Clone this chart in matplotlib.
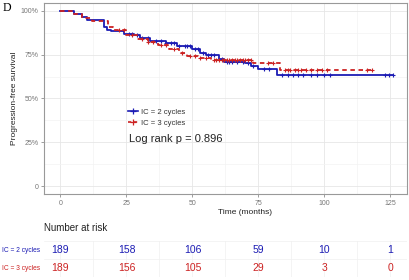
import numpy as np
import matplotlib
matplotlib.use("Agg")
import matplotlib.pyplot as plt
from matplotlib.lines import Line2D

plt.rcParams['font.family'] = ['Liberation Sans', 'DejaVu Sans']

# ---- data ----
groups = ["IC = 2 cycles", "IC = 3 cycles"]
colors = ["#1c1cb4", "#cc2222"]

blue_t = [0, 5, 8, 10, 16.5, 17.5, 19, 24, 28, 30, 34, 40, 44, 50, 53, 55, 60, 62, 70, 72, 75, 82, 126]
blue_s = [100, 98, 96.5, 95, 91, 89, 88.5, 87, 86, 84.5, 83, 81.5, 80, 78, 76, 75, 72.5, 71, 70, 68.5, 67, 63.6, 63.6]
blue_cens = [26, 27, 29, 31, 33, 36, 38, 40, 42, 43, 45, 47, 48, 49, 51, 52, 54, 56, 57, 58, 61, 63, 64,
             65, 67, 69, 71, 73, 77, 79, 84, 86, 88, 90, 92, 95, 97, 100, 102, 123, 124.5, 126]

red_t = [0, 5, 8, 12, 18, 20, 25, 29, 33, 37, 41, 45, 48, 52, 57, 73, 83, 118]
red_s = [100, 98.5, 96, 94.5, 91, 89, 86.5, 84, 82.5, 80.5, 78, 76, 74.5, 73, 72, 70.3, 66.3, 66.3]
red_cens = [22, 24, 27, 31, 33, 35, 38, 40, 43, 46, 49, 51, 53, 55, 58, 59, 60, 61, 62, 63, 64, 65, 66,
            67, 68, 69, 70, 71, 72, 78.5, 80.5, 85, 86, 87, 89, 90, 91, 93, 95, 97, 99, 101, 116, 118]

risk_times = [0, 25, 50, 75, 100, 125]
risk_blue = [189, 158, 106, 59, 10, 1]
risk_red = [189, 156, 105, 29, 3, 0]

x_ticks = [0, 25, 50, 75, 100, 125]
y_ticks = [0, 25, 50, 75, 100]
y_ticklabels = ["0", "25%", "50%", "75%", "100%"]

W, H = 410, 280
fig = plt.figure(figsize=(W / 100, H / 100), dpi=100)
fig.patch.set_facecolor("white")

def fx(px):
    return px / W

def fy(py):
    return 1 - py / H

# main axes
ax = fig.add_axes([fx(44), fy(194), fx(407) - fx(44), fy(3) - fy(194)])
ax.set_xlim(-6.25, 131.25)
ax.set_ylim(-4.5, 104.5)
ax.set_xticks(x_ticks)
ax.set_xticks([12.5, 37.5, 62.5, 87.5, 112.5], minor=True)
ax.set_yticks(y_ticks)
ax.set_yticks([12.5, 37.5, 62.5, 87.5], minor=True)
ax.set_yticklabels(y_ticklabels)
ax.grid(which="major", color="#e6e6e6", lw=0.6)
ax.grid(which="minor", color="#f3f3f3", lw=0.5)
ax.set_axisbelow(True)
ax.tick_params(which="major", labelsize=5, colors="#777777", length=2, width=0.5, pad=2)
ax.tick_params(which="minor", length=0)
for sp in ax.spines.values():
    sp.set_color("#999999")
    sp.set_linewidth(0.8)

def step_val(tarr, sarr, t):
    idx = np.searchsorted(tarr, t, side="right") - 1
    return np.asarray(sarr)[idx]

for tarr, sarr, cens, col, ls in [(blue_t, blue_s, blue_cens, colors[0], "-"),
                                  (red_t, red_s, red_cens, colors[1], (0, (2.5, 2)))]:
    ax.step(tarr, sarr, where="post", color=col, lw=1.3, linestyle=ls)
    cy = step_val(tarr, sarr, np.array(cens))
    ax.plot(cens, cy, linestyle="none", marker="+", color=col, ms=3.5, mew=0.8)

handles = [Line2D([], [], color=colors[0], lw=1.2, marker="+", ms=4, mew=0.9),
           Line2D([], [], color=colors[1], lw=1.2, linestyle=(0, (2, 1.5)), marker="+", ms=4, mew=0.9)]
leg = ax.legend(handles, groups, loc="upper left", bbox_to_anchor=(0.218, 0.475), frameon=False,
                fontsize=5.5, handlelength=1.3, handletextpad=0.3, labelspacing=0.45, borderpad=0.2)
for t in leg.get_texts():
    t.set_color("#333333")
ax.text(0.234, 0.288, "Log rank p = 0.896", transform=ax.transAxes, fontsize=8, va="center",
        ha="left", color="#222222")

fig.text(fx(245), fy(212), "Time (months)", fontsize=6, ha="center", va="center", color="#222222")
fig.text(fx(15), fy(98), "Progression-free survival", fontsize=6, rotation=90, ha="center",
         va="center", color="#222222")
fig.text(fx(3), fy(8), "D", fontsize=8.5, family="Liberation Serif", ha="left", va="center")

fig.text(fx(44), fy(228), "Number at risk", fontsize=7, ha="left", va="center", color="#222222")

# risk table axes
ax2 = fig.add_axes([fx(44), fy(277), fx(407) - fx(44), fy(241) - fy(277)])
ax2.set_xlim(-6.25, 131.25)
ax2.set_ylim(0, 2)
ax2.set_xticks(x_ticks)
ax2.set_xticks([12.5, 37.5, 62.5, 87.5, 112.5], minor=True)
ax2.set_yticks([0, 1, 2], minor=True)
ax2.set_yticks([1.5, 0.5])
ax2.set_yticklabels(groups)
for lab, col in zip(ax2.get_yticklabels(), colors):
    lab.set_color(col)
ax2.tick_params(axis="y", which="major", labelsize=4.8, length=0, pad=3)
ax2.tick_params(axis="x", which="both", labelbottom=False, length=0)
ax2.tick_params(axis="y", which="minor", length=0)
ax2.grid(which="major", axis="x", color="#f0f0f0", lw=0.5)
ax2.grid(which="minor", color="#f0f0f0", lw=0.5)
ax2.set_axisbelow(True)
for sp in ax2.spines.values():
    sp.set_visible(False)
for t, nb, nr in zip(risk_times, risk_blue, risk_red):
    ax2.text(t, 1.5, str(nb), color=colors[0], fontsize=7.5, ha="center", va="center")
    ax2.text(t, 0.5, str(nr), color=colors[1], fontsize=7.5, ha="center", va="center")

fig.savefig("out.png", dpi=100, facecolor="white")
